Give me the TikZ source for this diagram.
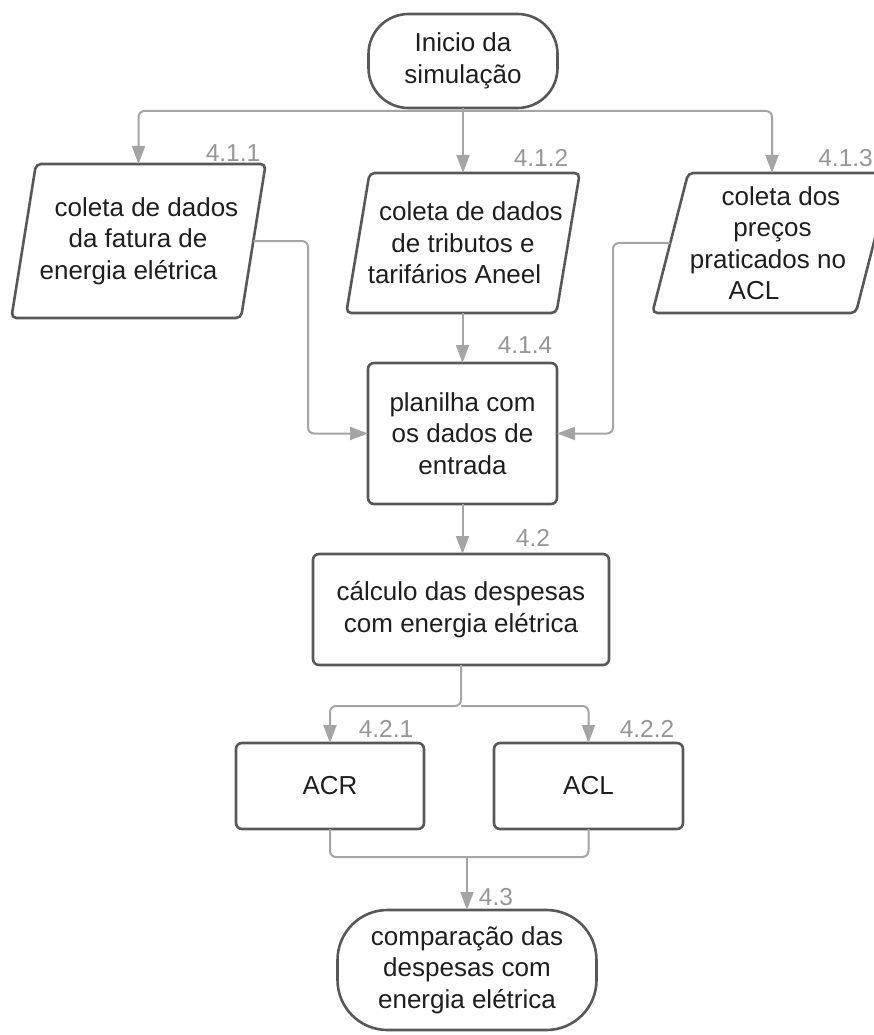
\documentclass[tikz,border=0pt]{standalone}
\usepackage{fontspec}
\setmainfont{Liberation Sans}
\usetikzlibrary{shapes.geometric,arrows.meta}
\definecolor{bordc}{RGB}{88,88,88}
\definecolor{linec}{RGB}{165,165,165}
\definecolor{labc}{RGB}{150,150,150}
\definecolor{txtc}{RGB}{30,30,30}
\newcommand{\shl}[2]{\hspace*{#1}#2\hspace*{-#1}}
\tikzset{
  base/.style={draw=bordc, line width=2.6pt, fill=white, align=center, inner sep=0pt, outer sep=0pt,
    text=txtc, font=\fontsize{26}{31.5}\selectfont},
  proc/.style={base, rectangle, rounded corners=6pt},
  term/.style={base, rectangle},
  io/.style={base, trapezium, trapezium stretches=true, rounded corners=5pt},
  lab/.style={text=labc, inner sep=0pt, font=\fontsize{24.5}{28}\selectfont},
  line/.style={draw=linec, line width=2pt, rounded corners=6pt},
  conn/.style={line, -{Triangle[width=13pt,length=18pt]}}
}
\begin{document}
\begin{tikzpicture}[x=1pt,y=-1pt]
\useasboundingbox (0,0) rectangle (874,1035);
% nodes
\node[term, rounded corners=40pt, minimum width=189pt, minimum height=94pt] (start) at (463,61) {Inicio da\\simulação};
\node[io, trapezium left angle=75.8, trapezium right angle=104.2, minimum width=255pt, minimum height=154pt] (p1) at (138.5,241)
  {\shl{8pt}{coleta de dados}\\\shl{-1pt}{da fatura de}\\\shl{-10pt}{energia elétrica}};
\node[io, trapezium left angle=74.4, trapezium right angle=105.6, minimum width=234pt, minimum height=140pt] (p2) at (463,243)
  {\shl{8pt}{coleta de dados}\\\shl{0pt}{de tributos e}\\\shl{-8.5pt}{tarifários Aneel}};
\node[io, trapezium left angle=74.4, trapezium right angle=105.6, minimum width=240pt, minimum height=140pt] (p3) at (772,243)
  {\shl{9pt}{coleta dos}\\\shl{1pt}{preços}\\\shl{-8pt}{praticados no}\\\shl{-18pt}{ACL}};
\node[proc, minimum width=189pt, minimum height=141pt] (b4) at (462.5,433.5) {planilha com\\os dados de\\entrada};
\node[proc, minimum width=296pt, minimum height=111pt] (b42) at (461,609.5) {cálculo das despesas\\com energia elétrica};
\node[proc, minimum width=188pt, minimum height=86pt] (acr) at (330,786) {ACR};
\node[proc, minimum width=189pt, minimum height=86pt] (acl) at (588.5,786) {ACL};
\node[term, rounded corners=50pt, minimum width=259pt, minimum height=120pt] (end) at (467,970) {comparação das\\despesas com\\energia elétrica};
% labels
\node[lab] (l411) at (233,153) {4.1.1};
\node[lab] (l412) at (541,158) {4.1.2};
\node[lab, anchor=east] (l413) at (873,158) {4.1.3};
\node[lab] (l414) at (525,345) {4.1.4};
\node[lab] (l42) at (533,538) {4.2};
\node[lab] (l421) at (386,729) {4.2.1};
\node[lab] (l422) at (647,729) {4.2.2};
\node[lab] (l43) at (496,897) {4.3};
% connectors
\coordinate (split1) at ([yshift=-3pt]start.south);
\draw[conn] (start.south) -- (start.south |- p2.north);
\draw[conn] (split1) -| (p1.center |- p1.north);
\draw[conn] (split1) -| (p3.center |- p3.north);
\draw[conn] (b4.north |- p2.south) -- (b4.north);
\draw[conn] (p1.east) -| ([xshift=-60pt]b4.west) -- (b4.west);
\draw[conn] (p3.west) -| ([xshift=56pt]b4.east) -- (b4.east);
\draw[conn] (b4.south) -- (b4.south |- b42.north);
\coordinate (split2) at ([yshift=-41pt]b42.south);
\draw[conn] (b42.south) -- (split2) -| (acr.north);
\draw[conn] (split2) -| (acl.north);
\coordinate (join) at ([yshift=53pt]end.north);
\draw[line] (acr.south) |- (join);
\draw[line] (acl.south) |- (join);
\draw[conn] (join) -- (end.north);
\end{tikzpicture}
\end{document}
